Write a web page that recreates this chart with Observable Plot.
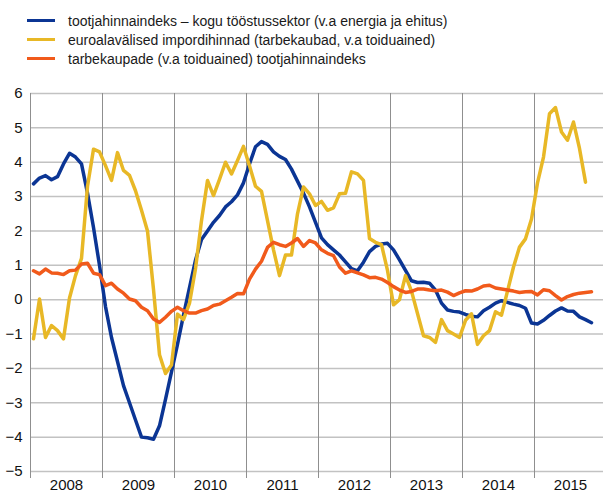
<!DOCTYPE html>
<html><head><meta charset="utf-8">
<script src="https://cdn.jsdelivr.net/npm/d3@7"></script>
<script src="https://cdn.jsdelivr.net/npm/@observablehq/plot@0.6"></script>
<style>
body{margin:0;background:#fff;font-family:"Liberation Sans",Arial,sans-serif;}
#legend{height:75px;position:relative;}
.item{position:absolute;left:27px;height:19px;display:flex;align-items:center;font-size:14px;color:#1a1a1a;white-space:nowrap;}
.sw{width:28px;height:3px;margin-right:13px;}
</style></head><body>
<div id="legend"></div><div id="chart"></div>
<script>
const seriesNames = [
  "tootjahinnaindeks – kogu tööstussektor (v.a energia ja ehitus)",
  "euroalavälised impordihinnad (tarbekaubad, v.a toiduained)",
  "tarbekaupade (v.a toiduained) tootjahinnaindeks"
];
const seriesColors = ["#0b3594", "#e8b826", "#f15a1b"];
const startYear = 2008; // monthly data from January 2008
const blue = [3.37,3.54,3.61,3.49,3.58,3.95,4.26,4.15,3.95,3.1,
  2.1,1.0,-0.2,-1.1,-1.8,-2.5,-3.0,-3.5,-4.0,-4.02,
  -4.06,-3.67,-2.9,-2.1,-1.3,-0.45,0.35,1.15,1.75,2.0,
  2.25,2.45,2.7,2.85,3.05,3.4,3.95,4.45,4.6,4.52,
  4.3,4.17,4.08,3.8,3.45,3.1,2.7,2.25,1.8,1.6,
  1.45,1.3,1.1,0.9,0.84,1.09,1.4,1.55,1.62,1.64,
  1.45,1.16,0.85,0.55,0.5,0.51,0.48,0.28,-0.1,-0.3,
  -0.34,-0.36,-0.43,-0.48,-0.5,-0.32,-0.22,-0.1,-0.03,-0.08,
  -0.13,-0.17,-0.25,-0.68,-0.71,-0.6,-0.46,-0.33,-0.24,-0.33,
  -0.34,-0.5,-0.58,-0.67];
const yellow = [-1.14,0.02,-1.1,-0.75,-0.9,-1.14,0.05,0.7,1.2,3.3,
  4.38,4.3,3.9,3.47,4.28,3.76,3.62,3.17,2.6,2.0,
  0.3,-1.6,-2.15,-1.9,-0.42,-0.58,-0.1,0.9,2.3,3.47,
  3.03,3.5,4.0,3.66,4.05,4.46,3.9,3.3,3.15,2.3,
  1.45,0.7,1.3,1.3,2.5,3.28,3.08,2.74,2.86,2.6,
  2.67,3.08,3.1,3.72,3.66,3.47,1.78,1.67,1.6,0.85,
  -0.15,0.0,0.7,0.25,-0.4,-1.05,-1.1,-1.24,-0.58,-0.9,
  -1.0,-1.1,-0.6,-0.41,-1.3,-1.05,-0.9,-0.35,-0.45,0.25,
  0.95,1.53,1.77,2.35,3.4,4.15,5.41,5.59,4.88,4.64,
  5.17,4.4,3.42];
const orange = [0.84,0.75,0.89,0.78,0.77,0.73,0.84,0.86,1.04,1.06,
  0.77,0.73,0.41,0.48,0.31,0.19,0.02,-0.03,-0.22,-0.32,
  -0.56,-0.66,-0.51,-0.34,-0.22,-0.32,-0.39,-0.39,-0.32,-0.27,
  -0.17,-0.13,-0.03,0.07,0.18,0.17,0.6,0.89,1.12,1.52,
  1.67,1.6,1.55,1.65,1.78,1.55,1.72,1.65,1.45,1.35,
  1.28,0.95,0.77,0.84,0.78,0.72,0.64,0.65,0.6,0.5,
  0.38,0.28,0.21,0.24,0.31,0.31,0.28,0.26,0.28,0.22,
  0.12,0.2,0.26,0.25,0.31,0.4,0.42,0.34,0.31,0.28,
  0.25,0.21,0.23,0.24,0.14,0.29,0.26,0.12,-0.01,0.09,
  0.15,0.19,0.21,0.23];
const yearLabels = [2008,2009,2010,2011,2012,2013,2014,2015];
const yTicks = [-5,-4,-3,-2,-1,0,1,2,3,4,5,6];

// legend
const legend = document.getElementById("legend");
seriesNames.forEach((name, i) => {
  const d = document.createElement("div");
  d.className = "item";
  d.style.top = (11 + i * 19) + "px";
  d.innerHTML = `<span class="sw" style="background:${seriesColors[i]}"></span><span></span>`;
  d.lastChild.textContent = name;
  legend.appendChild(d);
});

const allSeries = [blue, yellow, orange];
const rows = [];
allSeries.forEach((vals, s) => vals.forEach((v, i) => rows.push({
  date: startYear + (i + 0.5) / 12, value: v, series: seriesNames[s]
})));

const W = 603, left = 30;
const chart = Plot.plot({
  width: W, height: 418,
  marginLeft: left, marginRight: 0, marginTop: 18, marginBottom: 22,
  style: {fontFamily: "Liberation Sans, Arial, sans-serif", fontSize: "15px", color: "#111", background: "#fff", overflow: "visible"},
  x: {type: "linear", domain: [startYear, startYear + (W - left) / 72], label: null},
  y: {domain: [-5, 6], label: null},
  color: {domain: seriesNames, range: seriesColors},
  marks: [
    Plot.gridY({ticks: yTicks, stroke: "#c2c2c2", strokeOpacity: 1, strokeWidth: 1.5}),
    Plot.gridX({ticks: yearLabels, stroke: "#8f8f8f", strokeOpacity: 1, strokeWidth: 1}),
    Plot.axisX({ticks: yearLabels, tickSize: 7, tickFormat: () => "", stroke: "#8f8f8f", label: null}),
    Plot.axisX({ticks: yearLabels.map(y => y + 0.5), tickSize: 0, tickPadding: 8, tickFormat: d => String(Math.floor(d)), fontSize: 15, label: null}),
    Plot.axisY({ticks: yTicks, tickSize: 0, tickPadding: 8, fontSize: 15, label: null}),
    Plot.line(rows, {x: "date", y: "value", z: "series", stroke: "series", strokeWidth: 3.5})
  ]
});
document.getElementById("chart").appendChild(chart);
</script>
</body></html>
